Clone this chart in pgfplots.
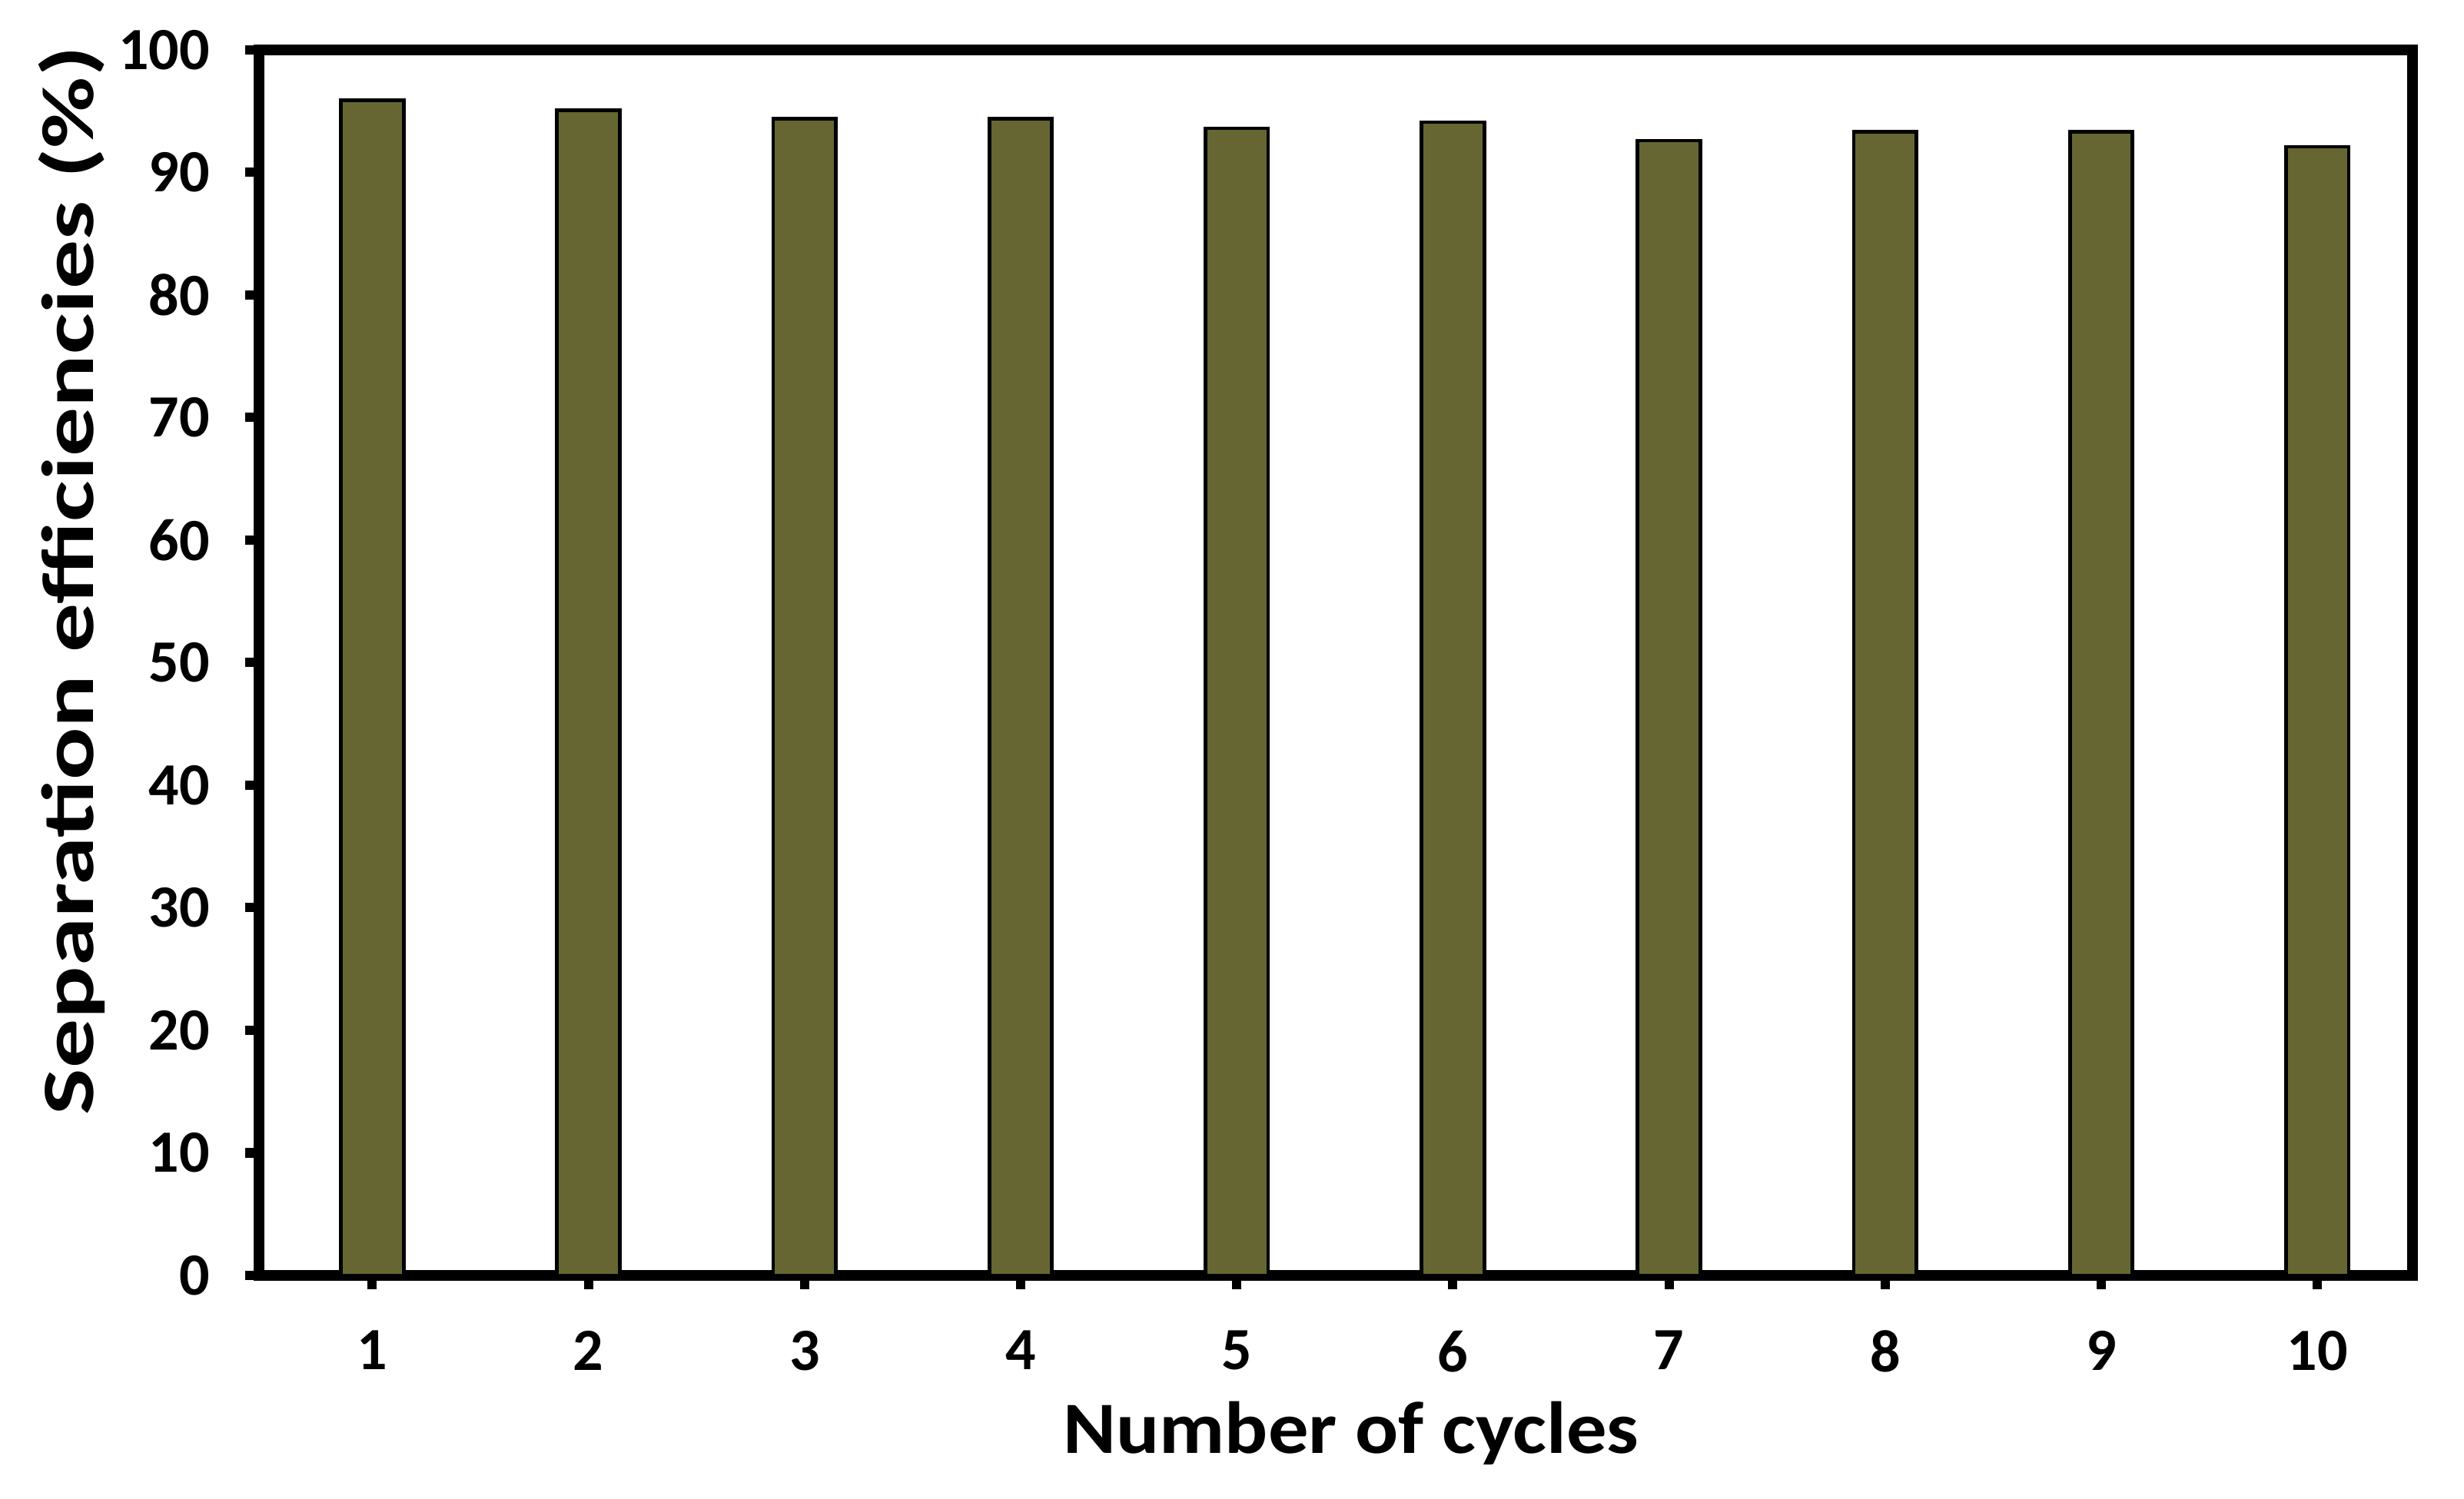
\documentclass[border=0pt]{standalone}
\usepackage{fontspec}
\setmainfont{Carlito}
\usepackage{graphicx}
\usepackage{pgfplots}
\pgfplotsset{compat=1.18}
\definecolor{barolive}{RGB}{102,102,51}
\begin{document}
\begin{tikzpicture}
\begin{axis}[
  name=main,
  scale only axis,
  width=700.5pt, height=398.75pt,
  xmin=0.476, xmax=10.44,
  ymin=0, ymax=100,
  ytick={0,10,...,100},
  xtick={1,...,10},
  tick align=outside,
  xtick pos=bottom, ytick pos=left,
  major tick length=4.5pt,
  every tick/.style={black, line width=3pt},
  axis line style={line width=3.5pt},
  /pgf/number format/assume math mode=true,
  tick label style={font=\bfseries\fontsize{19.5}{20}\selectfont},
  xticklabel style={yshift=-10pt},
  yticklabel style={xshift=-8pt},
  xlabel={\scalebox{1.09}[1]{Number of cycles}},
  ylabel={\scalebox{1.33}[1]{Separation efficiencies (\%)}},
  label style={font=\bfseries\fontsize{24}{26}\selectfont},
  xlabel style={xshift=5pt, yshift=-2.5pt},
  ylabel style={at={(ticklabel cs:0.567)}, yshift=-2.5pt},
  ybar, bar width=0.29,
]
\addplot[fill=barolive, draw=black, line width=1.2pt] coordinates {
 (1,95.9) (2,95.1) (3,94.4) (4,94.4) (5,93.6) (6,94.1) (7,92.6) (8,93.3) (9,93.3) (10,92.1)
};
\end{axis}
\useasboundingbox ([xshift=-84.25pt,yshift=-72.75pt]main.south west) rectangle ([xshift=16.75pt,yshift=16.25pt]main.north east);
\end{tikzpicture}
\end{document}
